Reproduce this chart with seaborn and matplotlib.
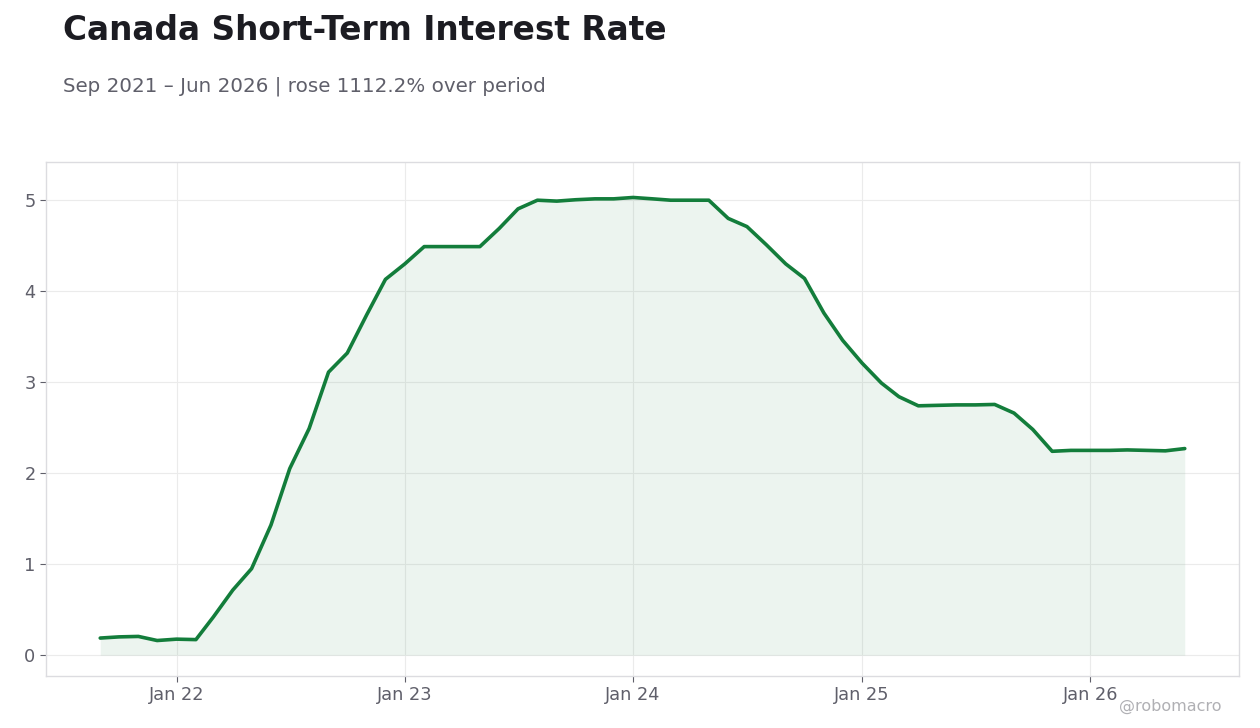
import matplotlib

matplotlib.use("Agg")
import matplotlib.dates as mdates
import matplotlib.pyplot as plt
import numpy as np
import pandas as pd
import seaborn as sns

# ============================================================================
# DATOS (mensuales, Sep 2021 - Jun 2026)
# ============================================================================

start_month = "2021-09-01"
rates = [
    0.187, 0.20, 0.205, 0.16, 0.175, 0.17, 0.42, 0.715, 0.95, 1.43,
    2.05, 2.49, 3.11, 3.32, 3.74, 4.13, 4.30, 4.49, 4.49, 4.49,
    4.49, 4.69, 4.905, 5.0, 4.99, 5.005, 5.015, 5.015, 5.03, 5.015,
    5.0, 5.0, 5.0, 4.80, 4.71, 4.51, 4.30, 4.14, 3.76, 3.46,
    3.21, 2.99, 2.84, 2.74, 2.745, 2.75, 2.75, 2.755, 2.66, 2.48,
    2.24, 2.25, 2.25, 2.25, 2.255, 2.25, 2.245, 2.27,
]

title = "Canada Short-Term Interest Rate"
subtitle = "Sep 2021 – Jun 2026 | rose 1112.2% over period"
watermark = "@robomacro"

LINE_COLOR = "#137d3b"
TEXT_DARK = "#1c1c22"
TEXT_GRAY = "#5f5f6a"

df = pd.DataFrame(
    {
        "date": pd.date_range(start_month, periods=len(rates), freq="MS"),
        "rate": rates,
    }
)

# ============================================================================
# GRÁFICO
# ============================================================================

sns.set_theme(style="whitegrid")
plt.rcParams["font.family"] = ["DejaVu Sans"]

fig = plt.figure(figsize=(12.6, 7.28), dpi=100)
ax = fig.add_axes([46 / 1260, 52 / 728, 1193 / 1260, 514 / 728])

sns.lineplot(data=df, x="date", y="rate", ax=ax, color=LINE_COLOR, linewidth=2.6)
ax.fill_between(df["date"], df["rate"], 0, color=LINE_COLOR, alpha=0.08, linewidth=0)

ax.set_ylim(-0.23, 5.42)
ax.set_xlabel("")
ax.set_ylabel("")
ax.xaxis.set_major_locator(mdates.YearLocator(month=1))
ax.xaxis.set_major_formatter(mdates.DateFormatter("%b %y"))

ax.grid(True, color="#ebebeb", linewidth=0.8)
for spine in ax.spines.values():
    spine.set_color("#dcdce0")
    spine.set_linewidth(1.0)
ax.tick_params(
    axis="both",
    labelsize=12.8,
    labelcolor=TEXT_GRAY,
    colors=TEXT_GRAY,
    length=4,
    width=0.8,
    bottom=True,
    left=True,
)
ax.tick_params(axis="both", labelcolor=TEXT_GRAY)

fig.text(63 / 1260, 1 - 40 / 728, title, fontsize=23.6, fontweight="bold",
         color=TEXT_DARK, ha="left", va="baseline")
fig.text(63 / 1260, 1 - 92 / 728, subtitle, fontsize=14.35,
         color=TEXT_GRAY, ha="left", va="baseline")
fig.text(1222 / 1260, 1 - 711 / 728, watermark, fontsize=11.5,
         color="#b0b0b4", ha="right", va="baseline")

fig.savefig("out.png", dpi=100)
plt.close(fig)
